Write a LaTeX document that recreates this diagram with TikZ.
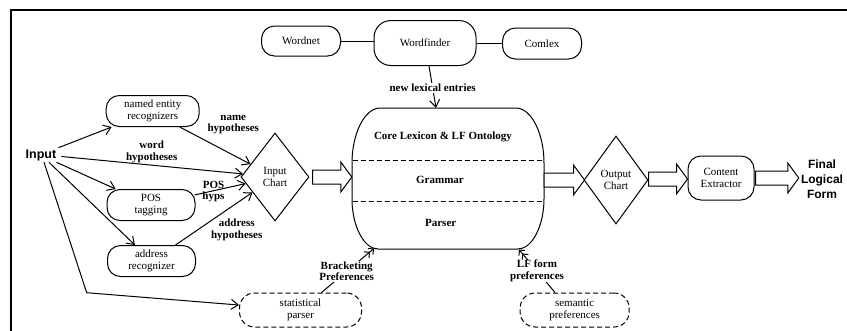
\documentclass[tikz,border=0pt]{standalone}
\usepackage{fontspec}
\setmainfont{Liberation Serif}
\newfontfamily\arialf{Liberation Sans}
\usetikzlibrary{shapes.geometric,arrows.meta,calc}
\newcommand\fatarr[2]{%
  \draw[fat] ($(#1)+(0,-7)$) -- ($(#2)+(-11,-7)$) -- ($(#2)+(-11,-15)$) -- (#2)
    -- ($(#2)+(-11,15)$) -- ($(#2)+(-11,7)$) -- ($(#1)+(0,7)$) -- cycle;}
\begin{document}
\begin{tikzpicture}[x=1pt,y=-1pt,
  every node/.style={font=\fontsize{11}{12}\selectfont, inner sep=1pt},
  box/.style={draw, line width=1pt, rounded corners=13pt, align=center, inner sep=0pt},
  dbox/.style={box, dash pattern=on 5pt off 3pt, rounded corners=15pt},
  chart/.style={draw, diamond, line width=1pt, align=center, inner sep=0pt},
  lbl/.style={font=\fontsize{11}{11.7}\selectfont\bfseries, align=center},
  conn/.style={line width=1pt, -{Straight Barb[length=7pt,width=10pt]}},
  conn2/.style={line width=1pt, -{Straight Barb[length=4pt,width=8pt]Straight Barb[length=4pt,width=8pt]}},
  line/.style={line width=1pt},
  fat/.style={draw, line width=1pt, fill=white},
  sepline/.style={line width=1pt, dash pattern=on 5pt off 3pt},
  sansbig/.style={font=\arialf\bfseries\fontsize{12}{15}\selectfont, align=center, inner sep=2pt}
]
\useasboundingbox (0,0) rectangle (847,330);
% frame
\draw[line width=2pt] (11,332) -- (11,10) -- (849,10);

% top lexical resources
\node[box, minimum width=79pt, minimum height=30pt] (wordnet) at (301,41) {Wordnet};
\node[box, rounded corners=17pt, minimum width=102pt, minimum height=45pt] (wordfinder) at (425,43) {Wordfinder};
\node[box, minimum width=79pt, minimum height=31pt] (comlex) at (542,43.5) {Comlex};
\draw[line] (wordnet.east) -- (wordnet.east -| wordfinder.west);
\draw[line] (wordfinder.east) -- (wordfinder.east -| comlex.west);

% core box
\node[minimum width=192pt, minimum height=141pt, inner sep=0pt] (core) at (448,178.5) {};
\draw[line width=1pt] (380,108) -- (516,108) .. controls (531,108) and (544,133) .. (544,163)
  -- (544,199) .. controls (544,226) and (532,249) .. (518,249) -- (378,249)
  .. controls (364,249) and (352,226) .. (352,199) -- (352,163)
  .. controls (352,133) and (365,108) .. (380,108) -- cycle;
\draw[sepline] (353,160) -- (543.5,160);
\draw[sepline] (352.5,201) -- (543.5,201);
\node[lbl] (corelex) at (443,137) {Core Lexicon \& LF Ontology};
\node[lbl] (grammar) at (440,180) {Grammar};
\node[lbl] (parser) at (440.7,223) {Parser};
\coordinate (corebl) at (374,248.5);
\coordinate (corebr) at (519,249.5);

\draw[conn] ($(wordfinder.south)+(4,0)$) -- node[lbl, fill=white, pos=0.52] {new lexical entries} ($(core.north)+(-12,0)$);

% input side
\node[sansbig, font=\arialf\bfseries\fontsize{12.5}{15}\selectfont] (input) at (41,155.5) {Input};
\node[box, minimum width=93pt, minimum height=31pt] (ner) at (152.7,111) {named entity\\recognizers};
\node[box, minimum width=88pt, minimum height=31pt] (pos) at (151,205) {POS\\tagging};
\node[box, minimum width=88pt, minimum height=31pt] (addr) at (151.5,261) {address\\recognizer};
\node[dbox, minimum width=122pt, minimum height=34pt] (stat) at (300.5,310) {statistical\\parser};
\node[dbox, minimum width=109pt, minimum height=34pt] (sem) at (574.6,310) {semantic\\preferences};
\node[chart, minimum width=68pt, minimum height=88pt] (ic) at (275,177) {Input\\Chart};
\node[chart, minimum width=64pt, minimum height=88pt] (oc) at (616,180) {Output\\Chart};
\node[box, minimum width=66pt, minimum height=44pt] (ce) at (721,178) {Content\\Extractor};
\node[sansbig] (final) at (822,179) {Final\\Logical\\Form};

\coordinate (bend) at (86.7,292.7);
\draw[conn] (input.north east) -- (ner);
\draw[conn] ($(input.east)+(3,1)$) -- (ic);
\draw[conn] ($(input.south east)+(-2,-1)$) -- (pos);
\draw[conn] ($(input.south)+(8,-1)$) -- (addr);
\draw[conn] ($(input.south)+(3,-1)$) -- (bend) -- (stat);

\draw[conn] ($(ner.south)+(27,0)$) -- (ic);
\draw[conn] ($(pos.east)+(-1,-10)$) -- (ic);
\draw[conn] ($(addr.north)+(24,0)$) -- (ic);

\node[lbl] (lname) at (233.3,124.5) {name\\hypotheses};
\node[lbl] (lword) at (151.7,151.7) {word\\hypotheses};
\node[lbl, font=\fontsize{11}{11}\selectfont\bfseries] (lpos) at (213.5,191.5) {POS\\hyps};
\node[lbl] (laddr) at (236.7,230) {address\\hypotheses};

\draw[conn2] ($(stat.north)+(21,0)$) -- node[lbl, fill=white, pos=0.48, inner sep=0.5pt] {Bracketing\\Preferences} (corebl);
\draw[conn2] ($(sem.north)+(-19.6,0)$) -- node[lbl, fill=white, pos=0.5, inner sep=0.5pt] {LF form\\preferences} (corebr);

% fat arrows
\path (ic.east) ++(3,0) coordinate (a1s);
\path (a1s -| core.west) coordinate (a1e);
\fatarr{a1s}{a1e}
\path (core.east |- oc.west) coordinate (a2s);
\path (oc.west) ++(1,0) coordinate (a2e);
\fatarr{a2s}{a2e}
\path (oc.east) ++(0,-1) coordinate (a3s);
\path (a3s -| ce.west) coordinate (a3e);
\fatarr{a3s}{a3e}
\path (ce.east) ++(1,0) coordinate (a4s);
\path (a4s -| final.west) coordinate (a4e);
\fatarr{a4s}{a4e}
\end{tikzpicture}
\end{document}
